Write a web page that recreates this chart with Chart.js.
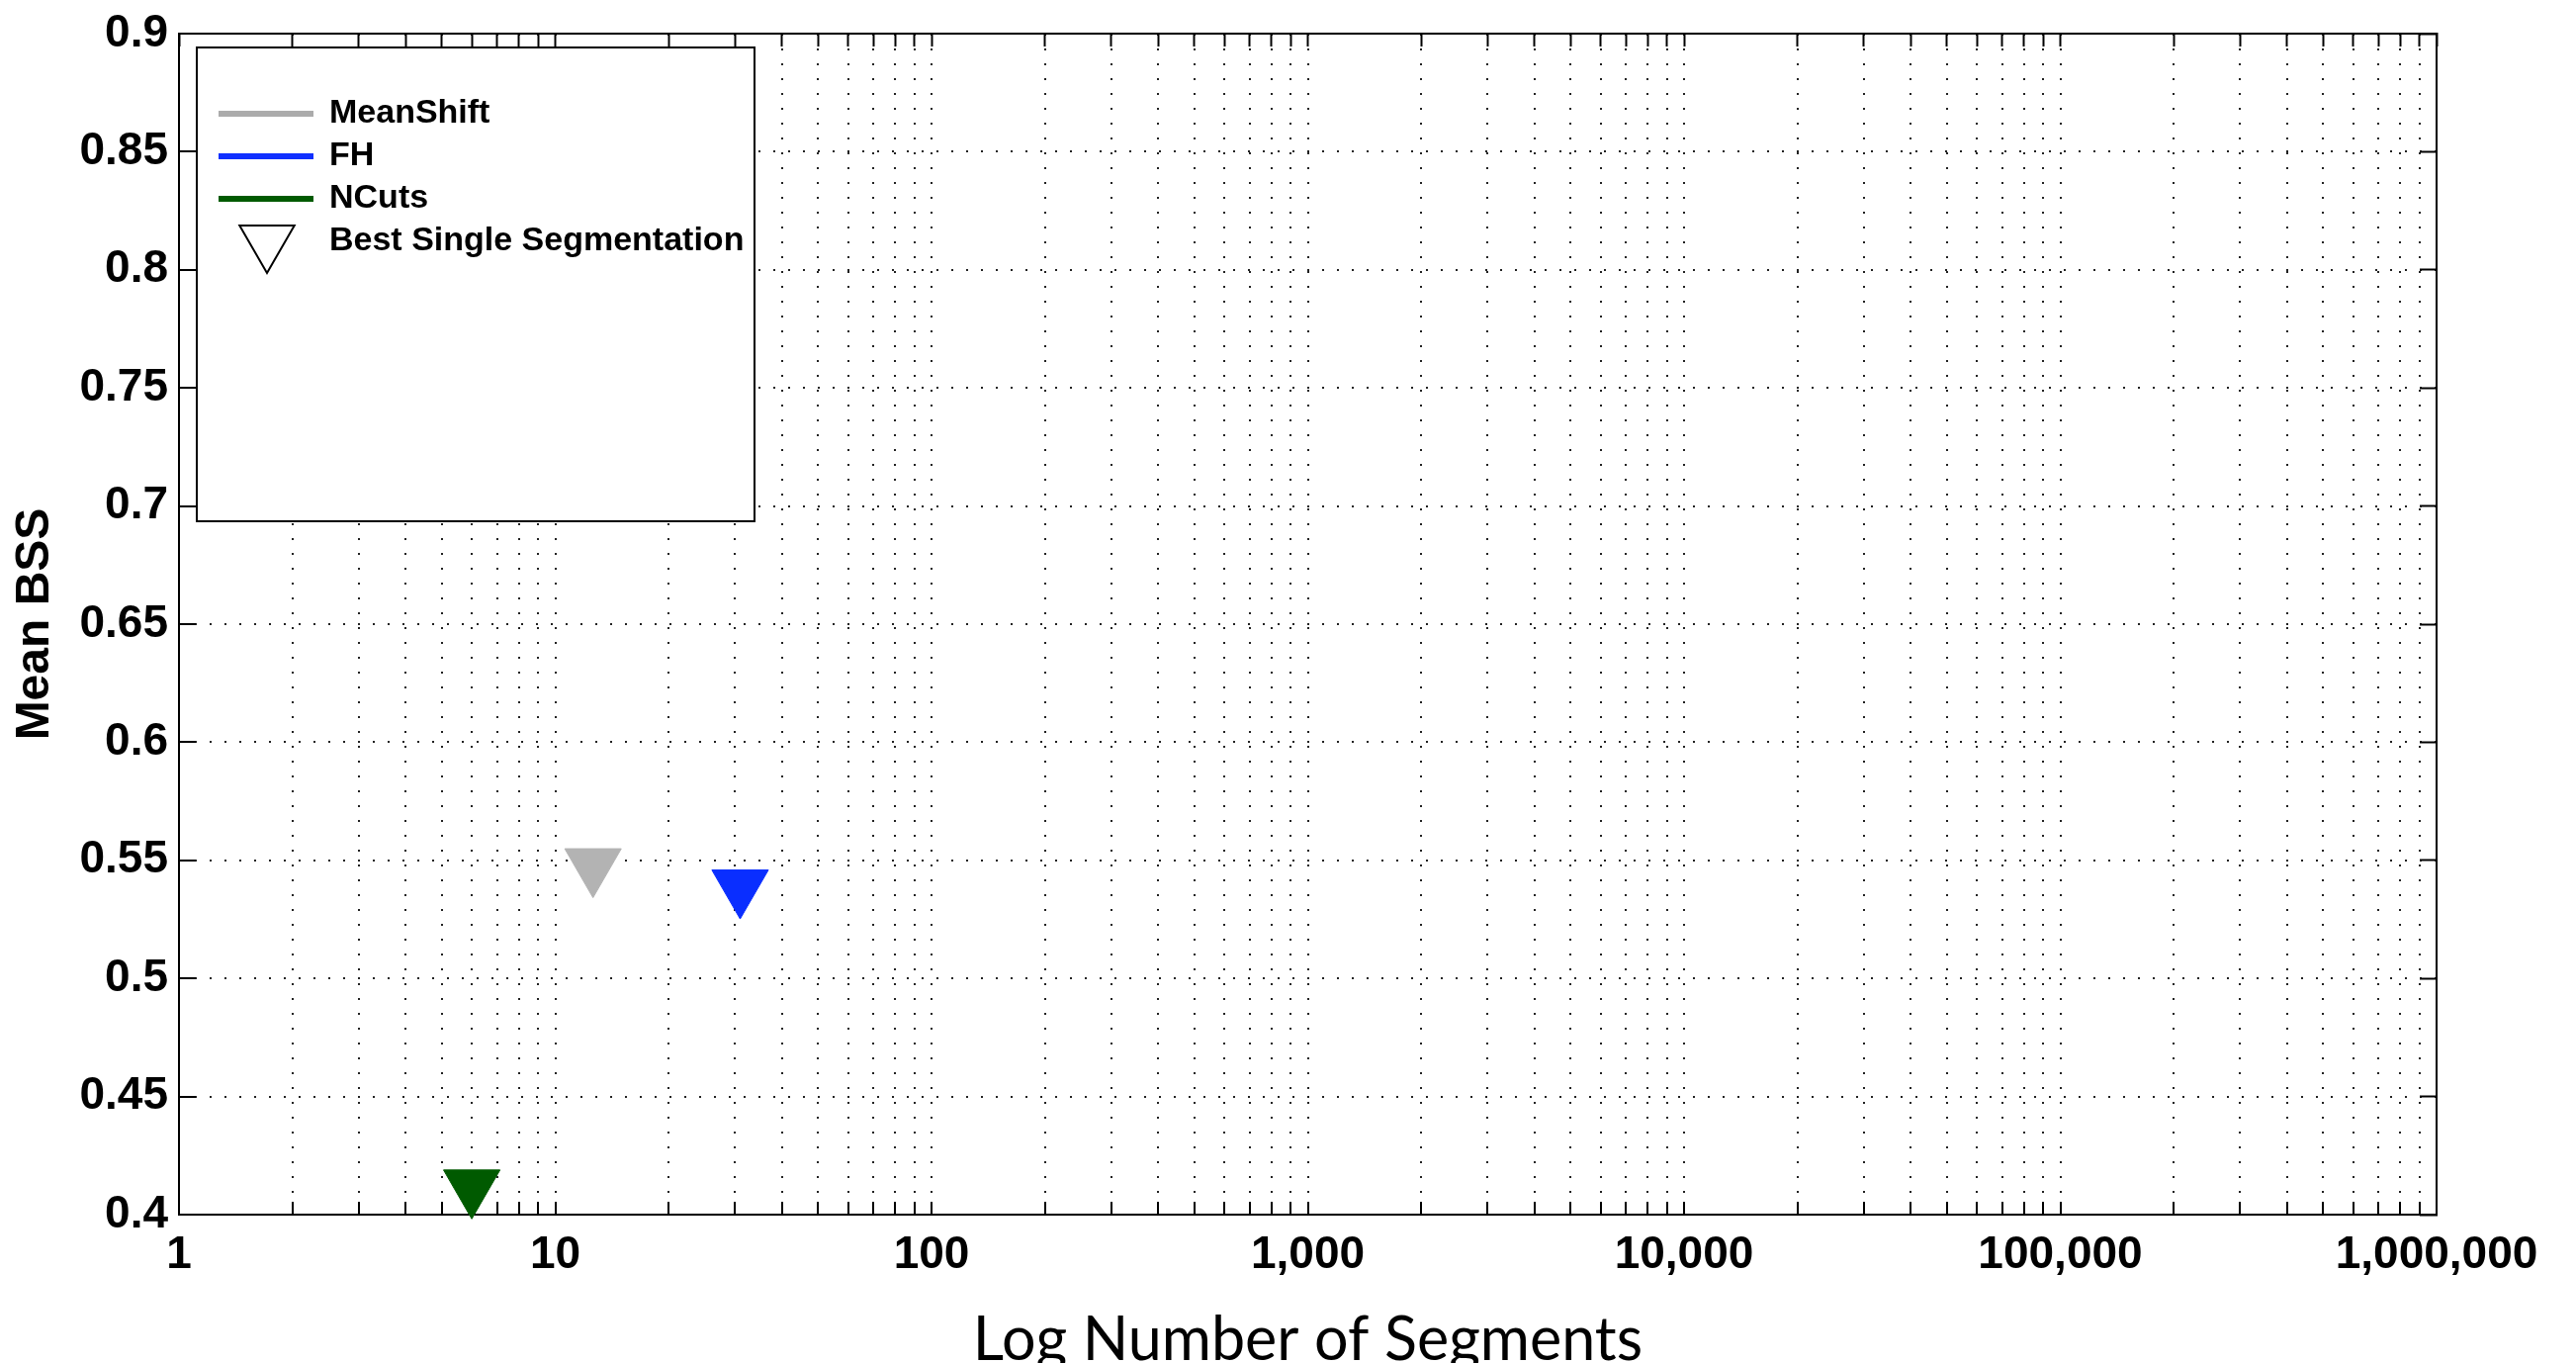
<!DOCTYPE html>
<html>
<head>
<meta charset="utf-8">
<title>Mean BSS vs number of segments</title>
<script src="https://cdn.jsdelivr.net/npm/chart.js@4.4.1/dist/chart.umd.min.js"></script>
<style>
  html, body { margin: 0; padding: 0; background: #fff; }
  canvas { display: block; }
</style>
</head>
<body>
<canvas id="bssChart" width="2605" height="1378"></canvas>
<script>
// values
const methods = ['MeanShift', 'FH', 'NCuts'];
const bestSegments = [12.6, 31, 6.0];
const bestBSS = [0.548, 0.539, 0.412];
const markerLabel = 'Best Single Segmentation';

const xTickValues = [1, 10, 100, 1000, 10000, 100000, 1000000];
const xTickLabels = ['1', '10', '100', '1,000', '10,000', '100,000', '1,000,000'];
const yTickLabels = ['0.4', '0.45', '0.5', '0.55', '0.6', '0.65', '0.7', '0.75', '0.8', '0.85', '0.9'];

const markerColors = ['#b3b3b3', '#0a2eff', '#005a00'];
const lineColors = ['#ababab', '#1030ff', '#005a00'];

const dotted = [2, 13];

// log ticks: every decade plus 2..9 in between (grid + tick marks)
function logTicks(scale) {
    const t = [];
    xTickValues.forEach(function (v, i) {
        t.push({ value: v });
        if (i < xTickValues.length - 1) {
            for (let m = 2; m <= 9; m++) t.push({ value: v * m });
        }
    });
    scale.ticks = t;
}

function linTicks(scale) {
    scale.ticks = yTickLabels.map(function (s) { return { value: Number(s) }; });
}

// MATLAB style legend box in the upper left corner
const boxLegend = {
    id: 'boxLegend',
    afterDraw(chart) {
        const ctx = chart.ctx;
        const area = chart.chartArea;
        const left = area.left + 18;
        const top = area.top + 14;
        const w = 564, h = 479;

        ctx.save();
        ctx.fillStyle = '#fff';
        ctx.fillRect(left, top, w, h);
        ctx.strokeStyle = '#000';
        ctx.lineWidth = 2;
        ctx.strokeRect(left, top, w, h);

        ctx.font = 'bold 34px "Liberation Sans", Arial, sans-serif';
        ctx.textBaseline = 'middle';
        ctx.fillStyle = '#000';

        const y0 = top + 67, step = 43;
        chart.data.datasets.forEach(function (ds, i) {
            const y = y0 + i * step;
            ctx.strokeStyle = lineColors[i];
            ctx.lineWidth = 6;
            ctx.beginPath();
            ctx.moveTo(left + 22, y);
            ctx.lineTo(left + 118, y);
            ctx.stroke();
            ctx.fillText(ds.label, left + 134, y);
        });

        // open triangle for the marker entry
        const ty = y0 + methods.length * step;
        const tx = left + 71;
        const r = 32;
        ctx.beginPath();
        ctx.moveTo(tx, ty + r);
        ctx.lineTo(tx - r * Math.sqrt(3) / 2, ty - r / 2);
        ctx.lineTo(tx + r * Math.sqrt(3) / 2, ty - r / 2);
        ctx.closePath();
        ctx.fillStyle = '#fff';
        ctx.fill();
        ctx.strokeStyle = '#000';
        ctx.lineWidth = 2;
        ctx.stroke();
        ctx.fillStyle = '#000';
        ctx.fillText(markerLabel, left + 134, ty);
        ctx.restore();
    }
};

Chart.defaults.font.family = '"Liberation Sans", Arial, sans-serif';
Chart.defaults.color = '#000';

const ctx = document.getElementById('bssChart').getContext('2d');
new Chart(ctx, {
    type: 'scatter',
    data: {
        datasets: methods.map(function (name, i) {
            return {
                label: name,
                data: [{ x: bestSegments[i], y: bestBSS[i] }],
                pointStyle: 'triangle',
                rotation: 180,
                pointRadius: 33,
                pointHoverRadius: 33,
                pointBackgroundColor: markerColors[i],
                pointBorderColor: markerColors[i],
                pointBorderWidth: 1,
                clip: false,
            };
        }),
    },
    options: {
        responsive: false,
        devicePixelRatio: 1,
        animation: false,
        layout: { padding: { top: 28, left: 0, right: 0, bottom: 0 } },
        plugins: {
            legend: { display: false },
            tooltip: { enabled: false },
        },
        scales: {
            x: {
                type: 'logarithmic',
                position: 'bottom',
                min: 1,
                max: 1000000,
                afterBuildTicks: logTicks,
                afterFit: function (s) { s.height = 150; },
                ticks: {
                    autoSkip: false,
                    maxRotation: 0,
                    padding: 27,
                    font: { size: 46, weight: 'bold' },
                    callback: function (value) {
                        const i = xTickValues.indexOf(value);
                        return i >= 0 ? xTickLabels[i] : '';
                    },
                },
                grid: {
                    color: '#222',
                    lineWidth: 2,
                    tickLength: -13,
                    tickColor: '#000',
                    tickWidth: 2,
                    tickBorderDash: [],
                },
                border: { display: true, color: '#000', width: 2, dash: dotted },
                title: {
                    display: true,
                    text: 'Log Number of Segments',
                    font: { family: 'Lato, "Noto Sans", sans-serif', size: 61, weight: 'normal', lineHeight: 1 },
                    padding: { top: 0, bottom: -8 },
                },
            },
            x2: {
                type: 'logarithmic',
                position: 'top',
                min: 1,
                max: 1000000,
                afterBuildTicks: logTicks,
                afterFit: function (s) { s.height = 0; },
                ticks: { display: false },
                grid: {
                    drawOnChartArea: false,
                    tickLength: -13,
                    tickColor: '#000',
                    tickWidth: 2,
                },
                border: { display: true, color: '#000', width: 2 },
            },
            y: {
                type: 'linear',
                position: 'left',
                min: 0.4,
                max: 0.9,
                afterBuildTicks: linTicks,
                afterFit: function (s) {
                    s.width = 181;
                    s.paddingTop = 0;
                    s.paddingBottom = 0;
                },
                ticks: {
                    padding: 28,
                    font: { size: 46, weight: 'bold' },
                    callback: function (value, index) { return yTickLabels[index]; },
                },
                grid: {
                    color: '#222',
                    lineWidth: 2,
                    tickLength: -17,
                    tickColor: '#000',
                    tickWidth: 2,
                    tickBorderDash: [],
                },
                border: { display: true, color: '#000', width: 2, dash: dotted },
                title: {
                    display: true,
                    text: 'Mean BSS',
                    font: { size: 48, weight: 'bold', lineHeight: 1.2 },
                    padding: { top: 7, bottom: 0 },
                },
            },
            y2: {
                type: 'linear',
                position: 'right',
                min: 0.4,
                max: 0.9,
                afterBuildTicks: linTicks,
                afterFit: function (s) {
                    s.width = 141;
                    s.paddingTop = 0;
                    s.paddingBottom = 0;
                },
                ticks: { display: false },
                grid: {
                    drawOnChartArea: false,
                    tickLength: -17,
                    tickColor: '#000',
                    tickWidth: 2,
                },
                border: { display: true, color: '#000', width: 2 },
            },
        },
    },
    plugins: [boxLegend],
});
</script>
</body>
</html>
